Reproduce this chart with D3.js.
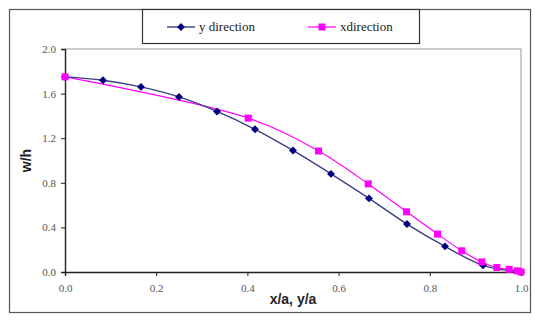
<!DOCTYPE html>
<html>
<head>
<meta charset="utf-8">
<script src="https://cdn.jsdelivr.net/npm/d3@7"></script>
<style>
  body { margin: 0; background: #fff; }
  svg { display: block; }
</style>
</head>
<body>
<div class="chart"></div>
<script>
// y direction (diamonds)
const yDirX = [0, 1/12, 2/12, 3/12, 4/12, 5/12, 6/12, 7/12, 8/12, 9/12, 10/12, 11/12, 1]
const yDirW = [1.75, 1.72, 1.66, 1.57, 1.44, 1.28, 1.09, 0.88, 0.66, 0.43, 0.23, 0.06, 0.0]

// x direction (squares)
const xDirX = [0, 0.402, 0.556, 0.665, 0.749, 0.817, 0.87, 0.914, 0.947, 0.974, 0.992, 1.0]
const xDirW = [1.75, 1.38, 1.085, 0.79, 0.54, 0.34, 0.19, 0.09, 0.04, 0.024, 0.01, 0.0]

const xTicks = [0, 0.2, 0.4, 0.6, 0.8, 1.0]
const yTicks = [0, 0.4, 0.8, 1.2, 1.6, 2.0]

const width = 535, height = 320
const serif = '"Liberation Serif", "Times New Roman", "DejaVu Serif", serif'
const sans = '"Liberation Sans", Arial, sans-serif'

const svg = d3.select('.chart')
  .append('svg')
  .attr('width', width)
  .attr('height', height)

// outer frame
svg.append('rect')
  .attr('x', 9.5).attr('y', 9.5)
  .attr('width', 521).attr('height', 303)
  .attr('fill', 'none').attr('stroke', '#555').attr('stroke-width', 1.2)

const x = d3.scaleLinear().domain([0, 1]).range([65, 521])
const y = d3.scaleLinear().domain([0, 2]).range([272, 49])

// plot border (top/right)
svg.append('path')
  .attr('d', `M${x(0)},${y(2)}H${x(1)}V${y(0)}`)
  .attr('fill', 'none').attr('stroke', '#999').attr('stroke-width', 1)

svg.append('g')
  .attr('transform', `translate(0,${y(0)})`)
  .call(d3.axisBottom(x).tickValues(xTicks).tickFormat(d3.format('.1f')).tickSize(4).tickPadding(8))
  .attr('font-family', serif).attr('font-size', 11)
  .call(g => g.select('.domain').attr('stroke', '#222').attr('stroke-width', 1.4))
  .call(g => g.selectAll('.tick line').attr('stroke', '#222'))
  .call(g => g.selectAll('.tick text').attr('fill', '#555'))

svg.append('g')
  .attr('transform', `translate(${x(0)},0)`)
  .call(d3.axisLeft(y).tickValues(yTicks).tickFormat(d3.format('.1f')).tickSize(4).tickPadding(5))
  .attr('font-family', serif).attr('font-size', 11)
  .call(g => g.select('.domain').attr('stroke', '#222').attr('stroke-width', 1.4))
  .call(g => g.selectAll('.tick line').attr('stroke', '#222'))
  .call(g => g.selectAll('.tick text').attr('fill', '#555'))

// axis titles
svg.append('text')
  .attr('x', (x(0) + x(1)) / 2).attr('y', 304)
  .attr('text-anchor', 'middle')
  .attr('font-family', sans).attr('font-weight', 'bold').attr('font-size', 14).attr('fill', '#222')
  .text('x/a, y/a')

svg.append('text')
  .attr('transform', `translate(31,${(y(0) + y(2)) / 2}) rotate(-90)`)
  .attr('text-anchor', 'middle')
  .attr('font-family', sans).attr('font-weight', 'bold').attr('font-size', 14).attr('fill', '#222')
  .text('w/h')

const line = d3.line().curve(d3.curveCatmullRom.alpha(0.5))

const yPts = yDirX.map((d, i) => [x(d), y(yDirW[i])])
const xPts = xDirX.map((d, i) => [x(d), y(xDirW[i])])

const navy = '#000080', navyLine = '#3a3f80', pink = '#ff00ff'

svg.append('path')
  .attr('d', line(xPts))
  .attr('fill', 'none').attr('stroke', pink).attr('stroke-width', 1.2)

svg.append('path')
  .attr('d', line(yPts))
  .attr('fill', 'none').attr('stroke', navyLine).attr('stroke-width', 1.4)

const diamond = d3.symbol().type(d3.symbolDiamond2).size(40)

svg.selectAll('.dia')
  .data(yPts)
  .enter()
  .append('path')
  .attr('class', 'dia')
  .attr('transform', d => `translate(${d[0]},${d[1]})`)
  .attr('d', diamond)
  .attr('fill', navy)

svg.selectAll('.sq')
  .data(xPts)
  .enter()
  .append('rect')
  .attr('class', 'sq')
  .attr('x', d => d[0] - 3.5).attr('y', d => d[1] - 3.5)
  .attr('width', 7).attr('height', 7)
  .attr('fill', pink)

// legend
const lg = svg.append('g')
  .attr('font-family', serif).attr('font-size', 13).attr('fill', '#222')
lg.append('rect')
  .attr('x', 142.5).attr('y', 9.5)
  .attr('width', 277).attr('height', 34)
  .attr('fill', '#fff').attr('stroke', '#333').attr('stroke-width', 1.2)

lg.append('line').attr('x1', 167).attr('x2', 195).attr('y1', 27).attr('y2', 27)
  .attr('stroke', navyLine).attr('stroke-width', 1.4)
lg.append('path').attr('transform', 'translate(181,27)').attr('d', diamond).attr('fill', navy)
lg.append('text').attr('x', 199).attr('y', 31).text('y direction')

lg.append('line').attr('x1', 308).attr('x2', 336).attr('y1', 27).attr('y2', 27)
  .attr('stroke', pink).attr('stroke-width', 1.2)
lg.append('rect').attr('x', 318.5).attr('y', 23.5).attr('width', 7).attr('height', 7).attr('fill', pink)
lg.append('text').attr('x', 340).attr('y', 31).text('xdirection')
</script>
</body>
</html>
